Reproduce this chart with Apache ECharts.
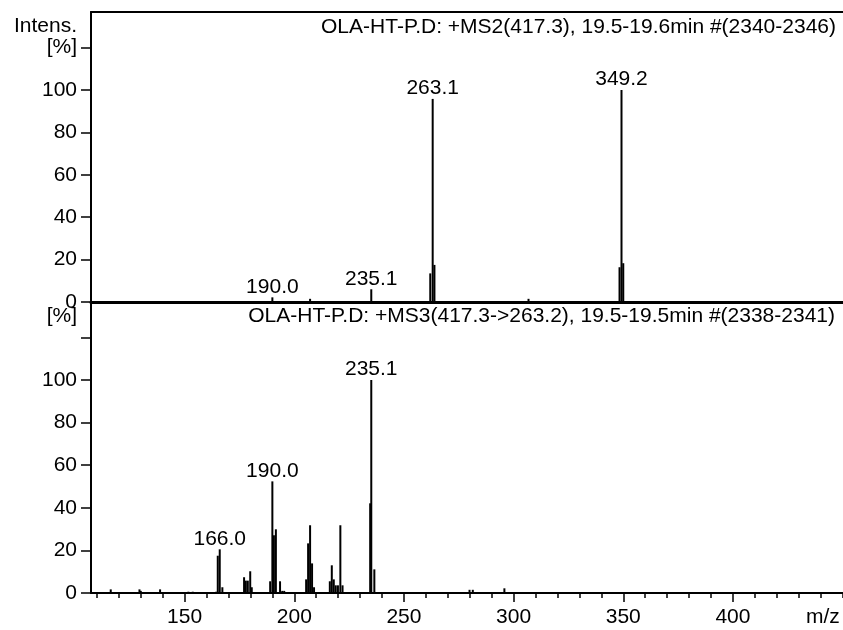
<!DOCTYPE html>
<html>
<head>
<meta charset="utf-8">
<script src="https://cdn.jsdelivr.net/npm/echarts@6/dist/echarts.min.js"></script>
<style>html,body{margin:0;padding:0;background:#fff;}#c{width:843px;height:630px;}</style>
</head>
<body>
<div id="c"></div>
<script>
// ---- data ----
const titleMS2 = 'OLA-HT-P.D: +MS2(417.3), 19.5-19.6min #(2340-2346)';
const titleMS3 = 'OLA-HT-P.D: +MS3(417.3->263.2), 19.5-19.5min #(2338-2341)';
const ms2Mz  = [190.0, 207.2, 235.1, 262.0, 263.1, 263.9, 306.8, 348.3, 349.2, 350.0];
const ms2Int = [2.2,   1.5,   6.0,   13.5,  95.8,  17.5,  1.5,   16.4,  100,   18.3];
const ms2Labeled = [190.0, 235.1, 263.1, 349.2];
const ms3Mz  = [116.3,129.4,130.0,138.8,151.7,153.7,164.4,165.1,166.0,167.2,177.1,177.9,178.8,179.9,180.6,189.0,190.0,190.7,191.6,193.5,194.5,195.4,205.4,206.3,207.2,208.1,209.0,216.2,217.1,218.0,218.9,219.9,221.0,222.0,234.6,235.1,236.5,279.9,281.4,295.8];
const ms3Int = [1.7,1.7,1.0,1.7,0.6,0.6,0.6,17.5,20.5,2.7,7.4,5.8,5.8,10.2,2.7,5.5,52.4,27.1,29.9,5.5,1.0,1.0,6.4,23.3,31.8,13.9,2.7,5.5,13.0,6.4,3.6,3.6,31.8,3.6,42.1,100,11.1,1.5,1.5,2.2];
const ms3Labeled = [166.0, 190.0, 235.1];
const xMajorTicks = [150, 200, 250, 300, 350, 400];
const xMinorTicks = [110,120,130,140,160,170,180,190,210,220,230,240,260,270,280,290,310,320,330,340,360,370,380,390,410,420,430,440,450];
const yTopMajor = [0, 20, 40, 60, 80, 100, 120];
const yTopMinor = [10, 30, 50, 70, 90, 110, 130];
const yTopLabels = {0:'0',20:'20',40:'40',60:'60',80:'80',100:'100',120:'[%]',130:'Intens.'};
const yBotMajor = [0, 20, 40, 60, 80, 100, 120];
const yBotMinor = [10, 30, 50, 70, 90, 110, 130];
const yBotLabels = {0:'0',20:'20',40:'40',60:'60',80:'80',100:'100',130:'[%]'};

const FONT = 'Liberation Sans, Arial, sans-serif';
const FS = 21;
const xMin = 107.3, xMax = 450.2;

function mkData(mz, inten, labeled) {
  return mz.map((m, i) => {
    const item = { value: [m, inten[i]] };
    if (labeled.indexOf(m) >= 0) item.label = { show: true };
    return item;
  });
}

const chart = echarts.init(document.getElementById('c'), null, { renderer: 'canvas' });
const lineStyle = { color: '#000', width: 2 };
const baseX = (grid) => ({ type: 'value', gridIndex: grid, min: xMin, max: xMax, splitLine: { show: false } });
const baseY = (grid, max) => ({ type: 'value', gridIndex: grid, min: 0, max: max, splitLine: { show: false } });

chart.setOption({
  animation: false,
  backgroundColor: '#fff',
  title: [
    { text: titleMS2, right: 7, top: 17, padding: 0, textStyle: { fontFamily: FONT, fontSize: FS, fontWeight: 'normal', color: '#000' } },
    { text: titleMS3, right: 8, top: 306, padding: 0, textStyle: { fontFamily: FONT, fontSize: FS, fontWeight: 'normal', color: '#000' } },
    { text: 'm/z', left: 806, top: 607, padding: 0, textStyle: { fontFamily: FONT, fontSize: FS, fontWeight: 'normal', color: '#000' } }
  ],
  grid: [
    { left: 91, top: 12, width: 752, height: 290 },
    { left: 91, top: 302, width: 752, height: 291 }
  ],
  xAxis: [
    Object.assign(baseX(0), { position: 'bottom', axisLine: { show: true, onZero: false, lineStyle: { color: '#000', width: 3 } }, axisTick: { show: false }, axisLabel: { show: false } }),
    Object.assign(baseX(0), { position: 'top', axisLine: { show: true, onZero: false, lineStyle: lineStyle }, axisTick: { show: false }, axisLabel: { show: false } }),
    Object.assign(baseX(1), { position: 'bottom',
      axisLine: { show: true, onZero: false, lineStyle: lineStyle },
      axisTick: { show: true, length: 9, lineStyle: { color: '#000', width: 1.5 }, customValues: xMajorTicks },
      axisLabel: { show: true, margin: 14, color: '#000', fontFamily: FONT, fontSize: FS, customValues: xMajorTicks } }),
    Object.assign(baseX(1), { position: 'bottom',
      axisLine: { show: false, onZero: false },
      axisTick: { show: true, length: 5, lineStyle: { color: '#000', width: 1.5 }, customValues: xMinorTicks },
      axisLabel: { show: false } })
  ],
  yAxis: [
    Object.assign(baseY(0, 136.8), {
      axisLine: { show: true, onZero: false, lineStyle: lineStyle },
      axisTick: { show: true, length: 10, lineStyle: { color: '#000', width: 1.5 }, customValues: yTopMajor },
      axisLabel: { show: true, margin: 14, color: '#000', fontFamily: FONT, fontSize: FS, customValues: Object.keys(yTopLabels).map(Number), formatter: v => yTopLabels[v] } }),
    Object.assign(baseY(0, 136.8), {
      axisLine: { show: false },
      axisTick: { show: true, length: 7, lineStyle: { color: '#000', width: 1.5 }, customValues: yTopMinor },
      axisLabel: { show: false } }),
    Object.assign(baseY(1, 136.6), {
      axisLine: { show: true, onZero: false, lineStyle: lineStyle },
      axisTick: { show: true, length: 10, lineStyle: { color: '#000', width: 1.5 }, customValues: yBotMajor },
      axisLabel: { show: true, margin: 14, color: '#000', fontFamily: FONT, fontSize: FS, customValues: Object.keys(yBotLabels).map(Number), formatter: v => yBotLabels[v] } }),
    Object.assign(baseY(1, 136.6), {
      axisLine: { show: false },
      axisTick: { show: true, length: 7, lineStyle: { color: '#000', width: 1.5 }, customValues: yBotMinor },
      axisLabel: { show: false } })
  ],
  series: [
    { type: 'bar', xAxisIndex: 0, yAxisIndex: 0, barWidth: 2, itemStyle: { color: '#000' },
      label: { show: false, position: 'top', distance: 0, color: '#000', fontFamily: FONT, fontSize: FS, formatter: p => p.value[0].toFixed(1) },
      data: mkData(ms2Mz, ms2Int, ms2Labeled) },
    { type: 'bar', xAxisIndex: 2, yAxisIndex: 2, barWidth: 2, itemStyle: { color: '#000' },
      label: { show: false, position: 'top', distance: 0, color: '#000', fontFamily: FONT, fontSize: FS, formatter: p => p.value[0].toFixed(1) },
      data: mkData(ms3Mz, ms3Int, ms3Labeled) }
  ]
});
</script>
</body>
</html>
